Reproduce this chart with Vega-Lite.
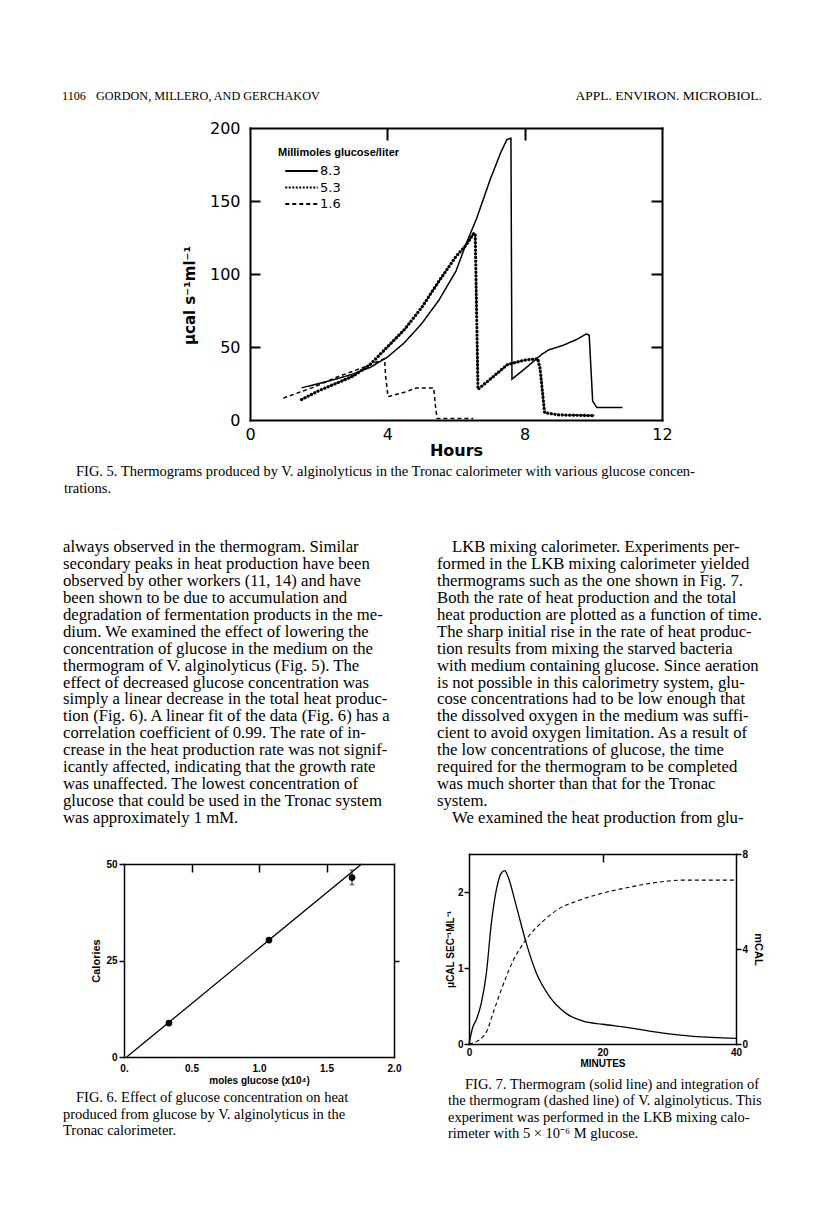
{
  "$schema": "https://vega.github.io/schema/vega-lite/v6.json",
  "background": "white",
  "padding": 0,
  "autosize": {"type": "none"},
  "width": 816,
  "height": 1211,
  "config": {
    "view": {"stroke": null},
    "axis": {"grid": false, "domain": false, "domainColor": "black", "domainCap": "square", "labelColor": "black", "titleColor": "black", "tickColor": "black", "labelFlush": false, "labelOverlap": false},
    "legend": {"labelColor": "black", "titleColor": "black"}
  },
  "datasets": {
    "hdrA": [{"pos": 0, "line": 0, "text": "1106"}, {"pos": 1, "line": 0, "text": "GORDON, MILLERO, AND GERCHAKOV"}],
    "hdrB": [{"pos": 0, "line": 0, "text": "APPL. ENVIRON. MICROBIOL."}],
    "cap5": [
      {"line": 0, "indent": 1, "text": "FIG. 5. Thermograms produced by V. alginolyticus in the Tronac calorimeter with various glucose concen-"},
      {"line": 1, "indent": 0, "text": "trations."}
    ],
    "bodyL": [
      {"line": 0, "indent": 0, "text": "always observed in the thermogram. Similar"},
      {"line": 1, "indent": 0, "text": "secondary peaks in heat production have been"},
      {"line": 2, "indent": 0, "text": "observed by other workers (11, 14) and have"},
      {"line": 3, "indent": 0, "text": "been shown to be due to accumulation and"},
      {"line": 4, "indent": 0, "text": "degradation of fermentation products in the me-"},
      {"line": 5, "indent": 0, "text": "dium. We examined the effect of lowering the"},
      {"line": 6, "indent": 0, "text": "concentration of glucose in the medium on the"},
      {"line": 7, "indent": 0, "text": "thermogram of V. alginolyticus (Fig. 5). The"},
      {"line": 8, "indent": 0, "text": "effect of decreased glucose concentration was"},
      {"line": 9, "indent": 0, "text": "simply a linear decrease in the total heat produc-"},
      {"line": 10, "indent": 0, "text": "tion (Fig. 6). A linear fit of the data (Fig. 6) has a"},
      {"line": 11, "indent": 0, "text": "correlation coefficient of 0.99. The rate of in-"},
      {"line": 12, "indent": 0, "text": "crease in the heat production rate was not signif-"},
      {"line": 13, "indent": 0, "text": "icantly affected, indicating that the growth rate"},
      {"line": 14, "indent": 0, "text": "was unaffected. The lowest concentration of"},
      {"line": 15, "indent": 0, "text": "glucose that could be used in the Tronac system"},
      {"line": 16, "indent": 0, "text": "was approximately 1 mM."}
    ],
    "bodyR": [
      {"line": 0, "indent": 1, "text": "LKB mixing calorimeter. Experiments per-"},
      {"line": 1, "indent": 0, "text": "formed in the LKB mixing calorimeter yielded"},
      {"line": 2, "indent": 0, "text": "thermograms such as the one shown in Fig. 7."},
      {"line": 3, "indent": 0, "text": "Both the rate of heat production and the total"},
      {"line": 4, "indent": 0, "text": "heat production are plotted as a function of time."},
      {"line": 5, "indent": 0, "text": "The sharp initial rise in the rate of heat produc-"},
      {"line": 6, "indent": 0, "text": "tion results from mixing the starved bacteria"},
      {"line": 7, "indent": 0, "text": "with medium containing glucose. Since aeration"},
      {"line": 8, "indent": 0, "text": "is not possible in this calorimetry system, glu-"},
      {"line": 9, "indent": 0, "text": "cose concentrations had to be low enough that"},
      {"line": 10, "indent": 0, "text": "the dissolved oxygen in the medium was suffi-"},
      {"line": 11, "indent": 0, "text": "cient to avoid oxygen limitation. As a result of"},
      {"line": 12, "indent": 0, "text": "the low concentrations of glucose, the time"},
      {"line": 13, "indent": 0, "text": "required for the thermogram to be completed"},
      {"line": 14, "indent": 0, "text": "was much shorter than that for the Tronac"},
      {"line": 15, "indent": 0, "text": "system."},
      {"line": 16, "indent": 1, "text": "We examined the heat production from glu-"}
    ],
    "cap6": [
      {"line": 0, "indent": 1, "text": "FIG. 6. Effect of glucose concentration on heat"},
      {"line": 1, "indent": 0, "text": "produced from glucose by V. alginolyticus in the"},
      {"line": 2, "indent": 0, "text": "Tronac calorimeter."}
    ],
    "cap7": [
      {"line": 0, "indent": 1, "text": "FIG. 7. Thermogram (solid line) and integration of"},
      {"line": 1, "indent": 0, "text": "the thermogram (dashed line) of V. alginolyticus. This"},
      {"line": 2, "indent": 0, "text": "experiment was performed in the LKB mixing calo-"},
      {"line": 3, "indent": 0, "text": "rimeter with 5 × 10⁻⁶ M glucose."}
    ],
    "f5": [
      {"conc": "8.3", "h": 1.5, "v": 22}, {"conc": "8.3", "h": 2.0, "v": 25}, {"conc": "8.3", "h": 2.5, "v": 28},
      {"conc": "8.3", "h": 3.0, "v": 31.5}, {"conc": "8.3", "h": 3.5, "v": 36}, {"conc": "8.3", "h": 4.0, "v": 43},
      {"conc": "8.3", "h": 4.5, "v": 53}, {"conc": "8.3", "h": 5.0, "v": 66}, {"conc": "8.3", "h": 5.5, "v": 82},
      {"conc": "8.3", "h": 6.0, "v": 102}, {"conc": "8.3", "h": 6.3, "v": 121}, {"conc": "8.3", "h": 6.6, "v": 138},
      {"conc": "8.3", "h": 7.0, "v": 165}, {"conc": "8.3", "h": 7.3, "v": 183}, {"conc": "8.3", "h": 7.48, "v": 192},
      {"conc": "8.3", "h": 7.6, "v": 193}, {"conc": "8.3", "h": 7.63, "v": 28}, {"conc": "8.3", "h": 8.0, "v": 35},
      {"conc": "8.3", "h": 8.5, "v": 45}, {"conc": "8.3", "h": 8.7, "v": 48}, {"conc": "8.3", "h": 9.1, "v": 51},
      {"conc": "8.3", "h": 9.5, "v": 55}, {"conc": "8.3", "h": 9.8, "v": 59}, {"conc": "8.3", "h": 9.88, "v": 58},
      {"conc": "8.3", "h": 9.98, "v": 13}, {"conc": "8.3", "h": 10.1, "v": 8.5}, {"conc": "8.3", "h": 10.85, "v": 8.5},
      {"conc": "5.3", "h": 1.5, "v": 14}, {"conc": "5.3", "h": 2.0, "v": 20}, {"conc": "5.3", "h": 2.5, "v": 25},
      {"conc": "5.3", "h": 3.0, "v": 30}, {"conc": "5.3", "h": 3.5, "v": 38}, {"conc": "5.3", "h": 4.0, "v": 50},
      {"conc": "5.3", "h": 4.5, "v": 62}, {"conc": "5.3", "h": 5.0, "v": 77}, {"conc": "5.3", "h": 5.5, "v": 95},
      {"conc": "5.3", "h": 6.0, "v": 112}, {"conc": "5.3", "h": 6.3, "v": 120}, {"conc": "5.3", "h": 6.52, "v": 128},
      {"conc": "5.3", "h": 6.56, "v": 127}, {"conc": "5.3", "h": 6.64, "v": 21}, {"conc": "5.3", "h": 7.0, "v": 28},
      {"conc": "5.3", "h": 7.5, "v": 38}, {"conc": "5.3", "h": 8.0, "v": 41}, {"conc": "5.3", "h": 8.38, "v": 42},
      {"conc": "5.3", "h": 8.45, "v": 35}, {"conc": "5.3", "h": 8.58, "v": 5}, {"conc": "5.3", "h": 9.0, "v": 3.5},
      {"conc": "5.3", "h": 10.03, "v": 3},
      {"conc": "1.6", "h": 0.97, "v": 15}, {"conc": "1.6", "h": 1.8, "v": 22}, {"conc": "1.6", "h": 2.6, "v": 30},
      {"conc": "1.6", "h": 3.3, "v": 36}, {"conc": "1.6", "h": 3.92, "v": 42}, {"conc": "1.6", "h": 3.95, "v": 30},
      {"conc": "1.6", "h": 4.02, "v": 16}, {"conc": "1.6", "h": 4.5, "v": 19}, {"conc": "1.6", "h": 4.85, "v": 22},
      {"conc": "1.6", "h": 5.35, "v": 22}, {"conc": "1.6", "h": 5.4, "v": 10}, {"conc": "1.6", "h": 5.45, "v": 1},
      {"conc": "1.6", "h": 6.5, "v": 1}
    ],
    "f6line": [{"x": 0.02, "y": 0}, {"x": 1.76, "y": 50}],
    "f6pts": [{"x": 0.333, "y": 8.8}, {"x": 1.074, "y": 30.3}, {"x": 1.689, "y": 46.5}],
    "f6err": [{"x": 1.689, "lo": 44.6, "hi": 48.4}],
    "f7rate": [
      {"t": 0, "r": 0}, {"t": 0.6, "r": 0.23}, {"t": 1.1, "r": 0.32}, {"t": 1.85, "r": 0.54}, {"t": 2.6, "r": 0.93},
      {"t": 3.35, "r": 1.59}, {"t": 4.1, "r": 2.03}, {"t": 4.85, "r": 2.25}, {"t": 5.35, "r": 2.28}, {"t": 5.85, "r": 2.2},
      {"t": 7.1, "r": 1.81}, {"t": 8.6, "r": 1.32}, {"t": 10.1, "r": 0.93}, {"t": 12.1, "r": 0.62}, {"t": 14.6, "r": 0.4},
      {"t": 17.1, "r": 0.3}, {"t": 20, "r": 0.26}, {"t": 23.6, "r": 0.22}, {"t": 28.6, "r": 0.15}, {"t": 33.6, "r": 0.1},
      {"t": 40, "r": 0.075}
    ],
    "f7cum": [
      {"t": 0, "m": 0}, {"t": 1.1, "m": 0.1}, {"t": 2.1, "m": 0.31}, {"t": 2.6, "m": 0.5}, {"t": 3.6, "m": 1.3},
      {"t": 4.6, "m": 2.1}, {"t": 5.6, "m": 2.85}, {"t": 6.6, "m": 3.5}, {"t": 7.6, "m": 4.0}, {"t": 9.1, "m": 4.6},
      {"t": 11, "m": 5.15}, {"t": 13.5, "m": 5.7}, {"t": 16, "m": 6.0}, {"t": 20, "m": 6.35}, {"t": 24, "m": 6.6},
      {"t": 28, "m": 6.8}, {"t": 32, "m": 6.9}, {"t": 36, "m": 6.9}, {"t": 40, "m": 6.9}
    ]
  },
  "layer": [
    {
      "data": {"name": "hdrA"},
      "mark": {"type": "text", "align": "left", "baseline": "middle", "font": "Liberation Serif", "fontSize": 12.2, "color": "black"},
      "encoding": {
        "x": {"field": "pos", "type": "quantitative", "scale": {"domain": [0, 1], "range": [62, 96]}, "axis": null},
        "y": {"field": "line", "type": "ordinal", "scale": {"type": "band", "range": [88, 104], "paddingInner": 0, "paddingOuter": 0}, "axis": null},
        "text": {"field": "text", "type": "nominal"}
      }
    },
    {
      "data": {"name": "hdrB"},
      "mark": {"type": "text", "align": "right", "baseline": "middle", "font": "Liberation Serif", "fontSize": 13.5, "color": "black"},
      "encoding": {
        "x": {"field": "pos", "type": "quantitative", "scale": {"domain": [0, 1], "range": [762, 800]}, "axis": null},
        "y": {"field": "line", "type": "ordinal", "scale": {"type": "band", "range": [88, 104], "paddingInner": 0, "paddingOuter": 0}, "axis": null},
        "text": {"field": "text", "type": "nominal"}
      }
    },
    {
      "data": {"name": "f5"},
      "mark": {"type": "line", "color": "black", "strokeWidth": 1.5},
      "encoding": {
        "x": {"field": "h", "type": "quantitative", "scale": {"domain": [0, 12], "range": [250, 662], "nice": false, "zero": false},
          "axis": {"orient": "bottom", "offset": -791, "domain": true, "domainWidth": 2, "values": [0, 4, 8, 12], "ticks": false, "labelFont": "DejaVu Sans", "labelFontSize": 16, "labelPadding": 6, "title": "Hours", "titleFont": "DejaVu Sans", "titleFontSize": 16, "titleFontWeight": "bold", "titlePadding": 0}},
        "y": {"field": "v", "type": "quantitative", "scale": {"domain": [0, 200], "range": [420, 128], "nice": false},
          "axis": {"orient": "left", "offset": -250, "domain": true, "domainWidth": 2, "values": [0, 50, 100, 150, 200], "ticks": false, "labelFont": "DejaVu Sans", "labelFontSize": 16, "labelPadding": 10, "title": "μcal s⁻¹ml⁻¹", "titleFont": "DejaVu Sans", "titleFontSize": 15, "titleFontWeight": "bold", "titlePadding": 12, "titleY": 295}},
        "strokeDash": {"field": "conc", "type": "nominal",
          "scale": {"domain": ["8.3", "5.3", "1.6"], "range": [[1, 0], [2, 1.5], [4, 3]]},
          "legend": {"title": "Millimoles glucose/liter", "orient": "none", "legendX": 278, "legendY": 146.5, "titleFont": "Liberation Sans", "titleFontSize": 11, "titleFontWeight": "bold", "titlePadding": 6, "labelFont": "DejaVu Sans", "labelFontSize": 13, "symbolType": "M-2.5,0H2.5", "symbolSize": 169, "symbolStrokeWidth": 2, "symbolOffset": 16, "rowPadding": 1.5, "labelOffset": 11}}
      }
    },
    {
      "data": {"name": "f5"},
      "transform": [{"filter": "datum.conc == '5.3'"}],
      "mark": {"type": "line", "color": "black", "strokeWidth": 3.2, "strokeDash": [0.1, 3.6], "strokeCap": "round"},
      "encoding": {
        "x": {"field": "h", "type": "quantitative", "scale": {"domain": [0, 12], "range": [250, 662], "nice": false, "zero": false}, "axis": null},
        "y": {"field": "v", "type": "quantitative", "scale": {"domain": [0, 200], "range": [420, 128], "nice": false}, "axis": null}
      }
    },
    {
      "data": {"name": "f5"},
      "mark": {"type": "point", "opacity": 0},
      "encoding": {
        "x": {"field": "h", "type": "quantitative", "scale": {"domain": [0, 12], "range": [250, 662], "nice": false, "zero": false},
          "axis": {"orient": "top", "offset": -128, "domain": true, "domainWidth": 2, "values": [4, 8], "labels": false, "tickSize": -12, "tickWidth": 2, "title": null}},
        "y": {"field": "v", "type": "quantitative", "scale": {"domain": [0, 200], "range": [420, 128], "nice": false},
          "axis": {"orient": "right", "offset": -154, "domain": true, "domainWidth": 2, "values": [50, 100, 150], "labels": false, "tickSize": -11, "tickWidth": 2, "title": null}}
      }
    },
    {
      "data": {"name": "f5"},
      "mark": {"type": "point", "opacity": 0},
      "encoding": {
        "x": {"field": "h", "type": "quantitative", "scale": {"domain": [0, 12], "range": [250, 662], "nice": false, "zero": false}, "axis": null},
        "y": {"field": "v", "type": "quantitative", "scale": {"domain": [0, 200], "range": [420, 128], "nice": false},
          "axis": {"orient": "left", "offset": -250, "values": [50, 100, 150], "labels": false, "tickSize": -10, "tickWidth": 2, "title": null}}
      }
    },
    {
      "data": {"name": "cap5"},
      "mark": {"type": "text", "align": "left", "baseline": "middle", "font": "Liberation Serif", "fontSize": 14.5, "color": "black"},
      "encoding": {
        "x": {"field": "indent", "type": "quantitative", "scale": {"domain": [0, 1], "range": [64, 76]}, "axis": null},
        "y": {"field": "line", "type": "ordinal", "scale": {"type": "band", "range": [463.5, 497.5], "paddingInner": 0, "paddingOuter": 0}, "axis": null},
        "text": {"field": "text", "type": "nominal"}
      }
    },
    {
      "data": {"name": "bodyL"},
      "mark": {"type": "text", "align": "left", "baseline": "middle", "font": "Liberation Serif", "fontSize": 16.7, "color": "black"},
      "encoding": {
        "x": {"field": "indent", "type": "quantitative", "scale": {"domain": [0, 1], "range": [63, 75]}, "axis": null},
        "y": {"field": "line", "type": "ordinal", "scale": {"type": "band", "range": [538.5, 826.5], "paddingInner": 0, "paddingOuter": 0}, "axis": null},
        "text": {"field": "text", "type": "nominal"}
      }
    },
    {
      "data": {"name": "bodyR"},
      "mark": {"type": "text", "align": "left", "baseline": "middle", "font": "Liberation Serif", "fontSize": 16.7, "color": "black"},
      "encoding": {
        "x": {"field": "indent", "type": "quantitative", "scale": {"domain": [0, 1], "range": [437, 452]}, "axis": null},
        "y": {"field": "line", "type": "ordinal", "scale": {"type": "band", "range": [538.5, 826.5], "paddingInner": 0, "paddingOuter": 0}, "axis": null},
        "text": {"field": "text", "type": "nominal"}
      }
    },
    {
      "data": {"name": "f6line"},
      "mark": {"type": "line", "color": "black", "strokeWidth": 1.3},
      "encoding": {
        "x": {"field": "x", "type": "quantitative", "scale": {"domain": [0, 2], "range": [124, 394], "nice": false, "zero": false},
          "axis": {"orient": "bottom", "offset": -154, "domain": true, "domainWidth": 1.5, "values": [0, 0.5, 1, 1.5, 2], "ticks": false, "labelExpr": "datum.value == 0 ? '0.' : format(datum.value, '.1f')", "labelFont": "Liberation Sans", "labelFontWeight": "bold", "labelFontSize": 10, "labelPadding": 6, "title": "moles glucose (x10⁴)", "titleFont": "Liberation Sans", "titleFontWeight": "bold", "titleFontSize": 10, "titlePadding": 2}},
        "y": {"field": "y", "type": "quantitative", "scale": {"domain": [0, 50], "range": [1057, 864], "nice": false},
          "axis": {"orient": "left", "offset": -124, "domain": true, "domainWidth": 1.5, "values": [0, 25, 50], "tickSize": 5, "tickWidth": 1.5, "labelFont": "Liberation Sans", "labelFontWeight": "bold", "labelFontSize": 10, "labelPadding": 2, "title": "Calories", "titleFont": "Liberation Sans", "titleFontWeight": "bold", "titleFontSize": 11, "titlePadding": 4}}
      }
    },
    {
      "data": {"name": "f6pts"},
      "mark": {"type": "point", "filled": true, "color": "black", "size": 45, "opacity": 1},
      "encoding": {
        "x": {"field": "x", "type": "quantitative", "scale": {"domain": [0, 2], "range": [124, 394], "nice": false, "zero": false},
          "axis": {"orient": "top", "offset": -864, "domain": true, "domainWidth": 1.5, "values": [0.5, 1, 1.5], "labels": false, "tickSize": -8, "tickWidth": 1.5, "title": null}},
        "y": {"field": "y", "type": "quantitative", "scale": {"domain": [0, 50], "range": [1057, 864], "nice": false},
          "axis": {"orient": "right", "offset": -422, "domain": true, "domainWidth": 1.5, "values": [25], "labels": false, "tickSize": 5, "tickWidth": 1.5, "title": null}}
      }
    },
    {
      "data": {"name": "f6err"},
      "mark": {"type": "rule", "color": "black", "strokeWidth": 1},
      "encoding": {
        "x": {"field": "x", "type": "quantitative", "scale": {"domain": [0, 2], "range": [124, 394], "nice": false, "zero": false}, "axis": null},
        "y": {"field": "lo", "type": "quantitative", "scale": {"domain": [0, 50], "range": [1057, 864], "nice": false}, "axis": null},
        "y2": {"field": "hi"}
      }
    },
    {
      "data": {"name": "f6err"},
      "transform": [{"fold": ["lo", "hi"], "as": ["end", "val"]}],
      "mark": {"type": "tick", "color": "black", "orient": "horizontal", "size": 5, "thickness": 1},
      "encoding": {
        "x": {"field": "x", "type": "quantitative", "scale": {"domain": [0, 2], "range": [124, 394], "nice": false, "zero": false}, "axis": null},
        "y": {"field": "val", "type": "quantitative", "scale": {"domain": [0, 50], "range": [1057, 864], "nice": false}, "axis": null}
      }
    },
    {
      "data": {"name": "f7rate"},
      "mark": {"type": "line", "color": "black", "strokeWidth": 1.3, "interpolate": "monotone"},
      "encoding": {
        "x": {"field": "t", "type": "quantitative", "scale": {"domain": [0, 40], "range": [469, 736], "nice": false, "zero": false},
          "axis": {"orient": "bottom", "offset": -167, "domain": true, "domainWidth": 1.5, "values": [0, 20, 40], "ticks": false, "labelFont": "Liberation Sans", "labelFontWeight": "bold", "labelFontSize": 10, "labelPadding": 3, "title": "MINUTES", "titleFont": "Liberation Sans", "titleFontWeight": "bold", "titleFontSize": 10, "titlePadding": 1}},
        "y": {"field": "r", "type": "quantitative", "scale": {"domain": [0, 2.5], "range": [1044, 854], "nice": false},
          "axis": {"orient": "left", "offset": -469, "domain": true, "domainWidth": 1.5, "values": [0, 1, 2], "tickSize": 5, "tickWidth": 1.5, "labelFont": "Liberation Sans", "labelFontWeight": "bold", "labelFontSize": 10, "labelPadding": 1, "title": "μCAL SEC⁻¹ML⁻¹", "titleFont": "Liberation Sans", "titleFontWeight": "bold", "titleFontSize": 10, "titlePadding": 2}}
      }
    },
    {
      "data": {"name": "f7cum"},
      "mark": {"type": "line", "color": "black", "strokeWidth": 1.1, "strokeDash": [4, 3], "interpolate": "monotone"},
      "encoding": {
        "x": {"field": "t", "type": "quantitative", "scale": {"domain": [0, 40], "range": [469, 736], "nice": false, "zero": false},
          "axis": {"orient": "top", "offset": -854, "domain": true, "domainWidth": 1.5, "values": [20], "labels": false, "tickSize": -8, "tickWidth": 1.5, "title": null}},
        "y": {"field": "m", "type": "quantitative", "scale": {"domain": [0, 8], "range": [1044, 854], "nice": false},
          "axis": {"orient": "right", "offset": -80, "domain": true, "domainWidth": 1.5, "values": [0, 4, 8], "tickSize": 5, "tickWidth": 1.5, "labelFont": "Liberation Sans", "labelFontWeight": "bold", "labelFontSize": 10, "labelPadding": 1, "title": "mCAL", "titleFont": "Liberation Sans", "titleFontWeight": "bold", "titleFontSize": 11, "titlePadding": 5}}
      }
    },
    {
      "data": {"name": "cap6"},
      "mark": {"type": "text", "align": "left", "baseline": "middle", "font": "Liberation Serif", "fontSize": 14.5, "color": "black"},
      "encoding": {
        "x": {"field": "indent", "type": "quantitative", "scale": {"domain": [0, 1], "range": [63, 76]}, "axis": null},
        "y": {"field": "line", "type": "ordinal", "scale": {"type": "band", "range": [1089.75, 1139.25], "paddingInner": 0, "paddingOuter": 0}, "axis": null},
        "text": {"field": "text", "type": "nominal"}
      }
    },
    {
      "data": {"name": "cap7"},
      "mark": {"type": "text", "align": "left", "baseline": "middle", "font": "Liberation Serif", "fontSize": 14.5, "color": "black"},
      "encoding": {
        "x": {"field": "indent", "type": "quantitative", "scale": {"domain": [0, 1], "range": [448, 465]}, "axis": null},
        "y": {"field": "line", "type": "ordinal", "scale": {"type": "band", "range": [1076.8, 1142.2], "paddingInner": 0, "paddingOuter": 0}, "axis": null},
        "text": {"field": "text", "type": "nominal"}
      }
    }
  ],
  "resolve": {
    "scale": {"x": "independent", "y": "independent", "strokeDash": "independent"},
    "axis": {"x": "independent", "y": "independent"}
  }
}
